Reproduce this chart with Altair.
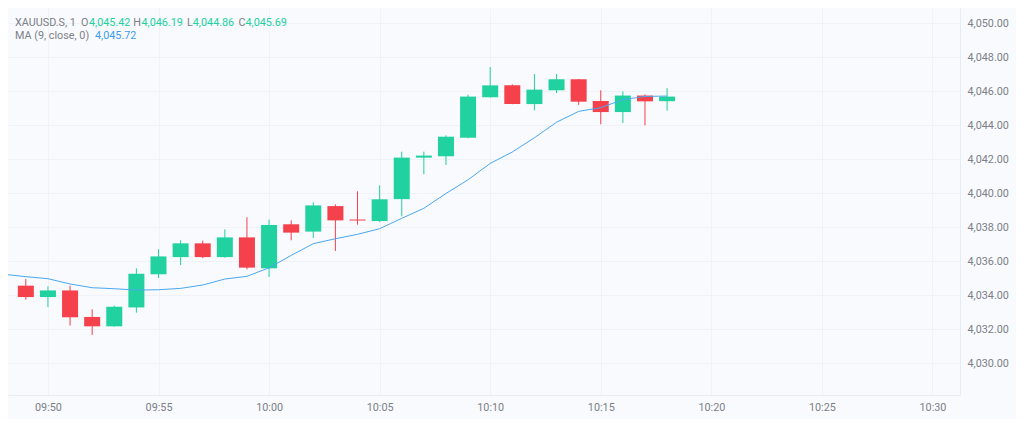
import altair as alt
import pandas as pd

# ---- data ----
times = ["09:49", "09:50", "09:51", "09:52", "09:53", "09:54", "09:55", "09:56",
         "09:57", "09:58", "09:59", "10:00", "10:01", "10:02", "10:03", "10:04",
         "10:05", "10:06", "10:07", "10:08", "10:09", "10:10", "10:11", "10:12",
         "10:13", "10:14", "10:15", "10:16", "10:17", "10:18"]
opens = [4034.57, 4033.90, 4034.29, 4032.73, 4032.18, 4033.29, 4035.24, 4036.25,
         4037.06, 4036.25, 4037.41, 4035.59, 4038.18, 4037.75, 4039.25, 4038.46,
         4038.37, 4039.66, 4042.10, 4042.18, 4043.27, 4045.65, 4046.35, 4045.25,
         4046.06, 4046.71, 4045.43, 4044.78, 4045.75, 4045.42]
highs = [4034.96, 4034.53, 4034.57, 4033.18, 4033.39, 4035.59, 4036.71, 4037.24,
         4037.22, 4037.88, 4038.59, 4038.45, 4038.41, 4039.47, 4039.35, 4040.12,
         4040.47, 4042.45, 4042.45, 4043.41, 4045.80, 4047.43, 4046.41, 4047.02,
         4047.02, 4046.72, 4046.06, 4046.00, 4045.82, 4046.19]
lows = [4033.75, 4033.31, 4032.22, 4031.67, 4032.16, 4032.98, 4035.02, 4035.78,
        4036.19, 4036.22, 4035.53, 4035.08, 4037.24, 4037.37, 4036.61, 4038.16,
        4038.31, 4038.65, 4041.12, 4041.67, 4043.24, 4045.63, 4045.24, 4044.88,
        4045.90, 4045.20, 4044.06, 4044.14, 4044.00, 4044.86]
closes = [4033.90, 4034.29, 4032.71, 4032.18, 4033.33, 4035.27, 4036.29, 4037.06,
          4036.25, 4037.41, 4035.63, 4038.14, 4037.69, 4039.29, 4038.41, 4038.40,
          4039.65, 4042.10, 4042.22, 4043.33, 4045.69, 4046.35, 4045.25, 4046.10,
          4046.71, 4045.39, 4044.78, 4045.75, 4045.41, 4045.69]

ma_times = ["09:48"] + times
ma_values = [4035.24, 4035.10, 4034.98, 4034.67, 4034.45, 4034.39, 4034.31, 4034.33,
             4034.41, 4034.61, 4034.96, 4035.12, 4035.62, 4036.35, 4037.04, 4037.33,
             4037.59, 4037.92, 4038.53, 4039.12, 4039.99, 4040.80, 4041.76, 4042.43,
             4043.27, 4044.18, 4044.82, 4045.04, 4045.51, 4045.70, 4045.72]

symbol_label = "XAUUSD.S, 1"
ma_label = "MA (9, close, 0)"
y_ticks = [4030, 4032, 4034, 4036, 4038, 4040, 4042, 4044, 4046, 4048, 4050]
x_tick_labels = ["09:50", "09:55", "10:00", "10:05", "10:10", "10:15", "10:20", "10:25", "10:30"]

# ---- styles ----
GREEN = "#22d1a0"
RED = "#f5414b"
BLUE = "#4aa8f0"
BLUE_TXT = "#3d9cf2"
GRAY = "#7d7f88"
BG = "#f8fafd"
GRID = "#eff2f7"
SEP = "#e8ecf2"
FONT = "Roboto"
FS = 10.8


def to_min(s):
    h, m = s.split(":")
    return (int(h) - 9) * 60 + int(m)


df = pd.DataFrame({
    "t": [to_min(s) for s in times],
    "open": opens, "high": highs, "low": lows, "close": closes,
})
df["dir"] = ["up" if c >= o else "down" for o, c in zip(opens, closes)]
ma_df = pd.DataFrame({"t": [to_min(s) for s in ma_times], "ma": ma_values})

x_scale = alt.Scale(domain=[48.42, 91.02], nice=False, zero=False)
y_scale = alt.Scale(domain=[4028.14, 4050.90], nice=False, zero=False)
color_scale = alt.Scale(domain=["up", "down"], range=[GREEN, RED])

x_axis = alt.Axis(
    values=[to_min(s) for s in x_tick_labels],
    labelExpr="format(9 + floor(datum.value / 60), '02d') + ':' + format(datum.value % 60, '02d')",
    grid=True, gridColor=GRID, ticks=False, domain=True, domainColor=SEP,
    labelColor=GRAY, labelFont=FONT, labelFontSize=FS, labelPadding=12,
    labelBaseline="middle", labelFlush=False, labelOverlap=False, title=None,
    minExtent=24, maxExtent=24,
)
y_axis = alt.Axis(
    orient="right", values=y_ticks, format=",.2f",
    grid=True, gridColor=GRID, ticks=False, domain=True, domainColor=SEP,
    labelColor=GRAY, labelFont=FONT, labelFontSize=FS, labelPadding=7,
    labelAlign="left", labelOverlap=False, title=None, minExtent=56, maxExtent=56,
)

base = alt.Chart(df)

wicks = base.mark_rule(strokeWidth=1).encode(
    x=alt.X("t:Q", scale=x_scale, axis=x_axis),
    y=alt.Y("low:Q", scale=y_scale, axis=y_axis),
    y2="high:Q",
    color=alt.Color("dir:N", scale=color_scale, legend=None),
)

bodies = base.mark_bar(size=16).encode(
    x=alt.X("t:Q", scale=x_scale, axis=x_axis),
    y=alt.Y("open:Q", scale=y_scale, axis=y_axis),
    y2="close:Q",
    color=alt.Color("dir:N", scale=color_scale, legend=None),
)

ma_line = alt.Chart(ma_df).mark_line(color=BLUE, strokeWidth=1, clip=True).encode(
    x=alt.X("t:Q", scale=x_scale, axis=x_axis),
    y=alt.Y("ma:Q", scale=y_scale, axis=y_axis),
)

last_o, last_h, last_l, last_c = opens[-1], highs[-1], lows[-1], closes[-1]
last_ma = ma_values[-1]

L1, L2 = 14.5, 27.5
segments = [
    (symbol_label, GRAY, 7, L1),
    ("O", GRAY, 73, L1),
    (f"{last_o:,.2f}", GREEN, 81, L1),
    ("H", GRAY, 125.3, L1),
    (f"{last_h:,.2f}", GREEN, 133.5, L1),
    ("L", GRAY, 179, L1),
    (f"{last_l:,.2f}", GREEN, 184.8, L1),
    ("C", GRAY, 230.5, L1),
    (f"{last_c:,.2f}", GREEN, 237.5, L1),
    (ma_label, GRAY, 7, L2),
    (f"{last_ma:,.2f}", BLUE_TXT, 87, L2),
]

texts = []
for txt, col, px, py in segments:
    texts.append(
        alt.Chart(pd.DataFrame({"label": [txt]})).mark_text(
            align="left", baseline="middle", font=FONT, fontSize=FS, color=col
        ).encode(text="label:N", x=alt.value(px), y=alt.value(py))
    )

chart = alt.layer(wicks, bodies, ma_line, *texts).properties(
    width=952, height=387, padding=0, background=BG
).configure_view(stroke=None, fill=BG).configure_axis(labelOverlap=False)

chart.save("out.html", embed_options={"renderer": "svg", "actions": False})
